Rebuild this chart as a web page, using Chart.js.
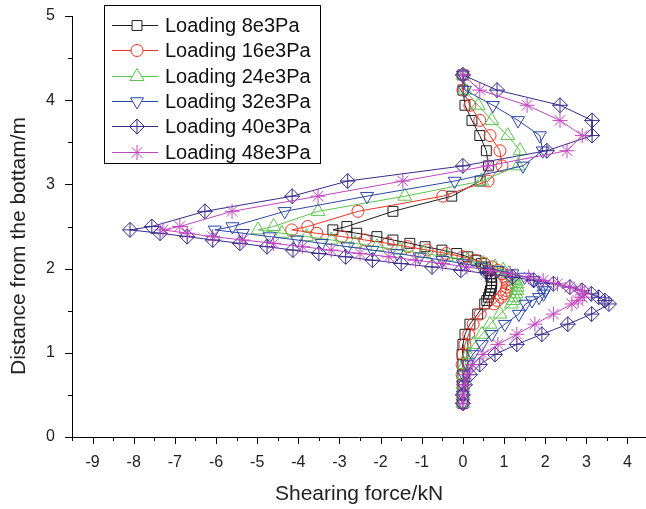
<!DOCTYPE html>
<html><head><meta charset="utf-8">
<script src="https://cdn.jsdelivr.net/npm/chart.js@4.4.1/dist/chart.umd.min.js"></script>
<style>html,body{margin:0;padding:0;background:#fff}#wrap{width:646px;height:509px;position:relative}</style>
</head><body><div id="wrap"><canvas id="c" width="646" height="509"></canvas></div>
<script>
const depth = [4.30, 4.12, 3.94, 3.76, 3.58, 3.40, 3.22, 3.04, 2.86, 2.68, 2.50,
  2.46, 2.42, 2.38, 2.34, 2.30, 2.26, 2.22, 2.18, 2.14, 2.10, 2.06, 2.02, 1.98, 1.94, 1.90, 1.86, 1.82, 1.78, 1.74, 1.70, 1.66, 1.62, 1.58,
  1.46, 1.34, 1.22, 1.10, 0.98, 0.86, 0.74, 0.62, 0.50, 0.40];
const load8 = [0.00, 0.00, 0.05, 0.22, 0.41, 0.57, 0.62, 0.42, -0.27, -1.70, -2.82,
  -3.16, -2.58, -2.09, -1.70, -1.29, -0.92, -0.51, -0.15, 0.12, 0.32, 0.45, 0.55, 0.62, 0.66, 0.68, 0.70, 0.70, 0.69, 0.67, 0.65, 0.62, 0.58, 0.53,
  0.36, 0.17, 0.05, 0.00, -0.02, 0.00, 0.00, 0.00, 0.00, 0.00];
const load16 = [0.00, 0.00, 0.17, 0.41, 0.66, 0.90, 0.95, 0.61, -0.49, -2.55, -3.77,
  -4.16, -3.55, -2.94, -2.38, -1.82, -1.34, -0.87, -0.40, 0.00, 0.30, 0.52, 0.70, 0.84, 0.95, 1.02, 1.06, 1.08, 1.07, 1.05, 1.00, 0.93, 0.84, 0.75,
  0.42, 0.25, 0.14, 0.05, 0.00, -0.02, -0.02, 0.00, 0.00, 0.00];
const load24 = [0.00, 0.05, 0.37, 0.70, 1.09, 1.39, 1.34, 0.46, -1.41, -3.52, -4.60,
  -4.98, -4.40, -3.80, -3.20, -2.62, -2.09, -1.53, -0.95, -0.40, 0.12, 0.50, 0.78, 0.98, 1.12, 1.22, 1.28, 1.31, 1.32, 1.31, 1.29, 1.26, 1.22, 1.18,
  0.90, 0.66, 0.46, 0.25, 0.12, 0.05, 0.01, 0.00, 0.00, 0.00];
const load32 = [0.00, 0.05, 0.73, 1.34, 1.87, 1.94, 1.46, -0.20, -2.33, -4.33, -5.60,
  -6.03, -5.35, -4.70, -4.03, -3.43, -2.80, -2.20, -1.60, -1.05, -0.50, 0.00, 0.45, 0.85, 1.20, 1.50, 1.72, 1.87, 1.96, 2.00, 1.96, 1.85, 1.68, 1.52,
  1.36, 1.02, 0.70, 0.46, 0.24, 0.10, 0.02, 0.00, 0.00, 0.00];
const load40 = [0.00, 0.83, 2.36, 3.14, 3.14, 2.04, 0.00, -2.80, -4.15, -6.27, -7.56,
  -8.09, -7.36, -6.70, -6.08, -5.42, -4.76, -4.13, -3.50, -2.85, -2.20, -1.50, -0.75, -0.05, 0.60, 1.20, 1.72, 2.20, 2.60, 2.90, 3.12, 3.30, 3.45, 3.55,
  3.13, 2.55, 1.92, 1.31, 0.78, 0.41, 0.17, 0.05, 0.00, 0.00];
const load48 = [0.00, 0.41, 1.56, 2.36, 2.90, 2.53, 0.61, -1.46, -3.52, -5.61, -6.88,
  -7.29, -6.70, -6.08, -5.35, -4.60, -3.90, -3.20, -2.50, -1.80, -1.15, -0.50, 0.10, 0.65, 1.15, 1.60, 1.95, 2.30, 2.60, 2.85, 2.95, 2.90, 2.80, 2.65,
  2.20, 1.75, 1.31, 0.85, 0.49, 0.24, 0.10, 0.03, 0.00, 0.00];
const seriesNames = ['Loading 8e3Pa', 'Loading 16e3Pa', 'Loading 24e3Pa', 'Loading 32e3Pa', 'Loading 40e3Pa', 'Loading 48e3Pa'];
const seriesValues = [load8, load16, load24, load32, load40, load48];
const xTickLabels = [-9, -8, -7, -6, -5, -4, -3, -2, -1, 0, 1, 2, 3, 4];
const yTickLabels = [0, 1, 2, 3, 4, 5];

const styles = [
  {color: '#1e1e1e', point: 'rect', r: 7, rot: 0},
  {color: '#ec3323', point: 'circle', r: 6, rot: 0},
  {color: '#5cc44f', point: 'triangle', r: 8, rot: 0},
  {color: '#2b46a8', point: 'triangle', r: 7.5, rot: 180},
  {color: '#382c8c', point: 'rectRot', r: 7.5, rot: 0, extra: 'cross'},
  {color: '#c244c0', point: 'star', r: 7.5, rot: 0}
];
const FONT = '"Liberation Sans", Arial, sans-serif';

const datasets = [];
seriesValues.forEach((vals, i) => {
  const s = styles[i];
  const pts = depth.map((d, k) => ({x: vals[k], y: d}));
  datasets.push({
    label: seriesNames[i], data: pts, showLine: true,
    borderColor: s.color, borderWidth: 1, backgroundColor: 'rgba(0,0,0,0)',
    pointStyle: s.point, pointRotation: s.rot, pointRadius: s.r,
    pointBorderColor: s.color, pointBackgroundColor: 'rgba(0,0,0,0)', pointBorderWidth: 1,
    tension: 0, order: 20 - 2 * i
  });
  if (s.extra) {
    datasets.push({
      label: '_' + seriesNames[i], data: pts, showLine: false,
      pointStyle: s.extra, pointRadius: s.r, pointBorderColor: s.color,
      pointBackgroundColor: 'rgba(0,0,0,0)', pointBorderWidth: 1, order: 19 - 2 * i
    });
  }
});

const decor = {
  id: 'decor',
  afterDraw(chart) {
    const {ctx, scales: {x, y}} = chart;
    ctx.save();
    ctx.strokeStyle = '#000'; ctx.lineWidth = 1;
    for (let k = Math.ceil(x.min * 2); k <= Math.floor(x.max * 2); k++) {
      const px = Math.round(x.getPixelForValue(k / 2)) + 0.5;
      const len = (k % 2 === 0) ? 7 : 4;
      ctx.beginPath(); ctx.moveTo(px, x.top); ctx.lineTo(px, x.top + len); ctx.stroke();
    }
    for (let k = Math.ceil(y.min * 2); k <= Math.floor(y.max * 2); k++) {
      const py = Math.round(y.getPixelForValue(k / 2)) + 0.5;
      const len = (k % 2 === 0) ? 7 : 4;
      ctx.beginPath(); ctx.moveTo(y.right, py); ctx.lineTo(y.right - len, py); ctx.stroke();
    }
    ctx.fillStyle = '#222';
    ctx.font = '21px ' + FONT;
    ctx.textAlign = 'center'; ctx.textBaseline = 'middle';
    ctx.fillText('Shearing force/kN', (x.left + x.right) / 2, 494);
    ctx.save();
    ctx.translate(19, 246); ctx.rotate(-Math.PI / 2);
    ctx.fillText('Distance from the bottam/m', 0, 0);
    ctx.restore();
    const bx = 104.5, by = 5.5, bw = 216, bh = 158;
    ctx.fillStyle = '#fff'; ctx.fillRect(bx, by, bw, bh);
    ctx.strokeStyle = '#000'; ctx.lineWidth = 1; ctx.strokeRect(bx, by, bw, bh);
    ctx.font = '20px ' + FONT; ctx.textAlign = 'left'; ctx.textBaseline = 'middle';
    seriesNames.forEach((name, i) => {
      const s = styles[i];
      const ry = Math.round(25 + i * 25.3) + 0.5;
      ctx.strokeStyle = s.color; ctx.lineWidth = 1.2;
      ctx.beginPath(); ctx.moveTo(112, ry); ctx.lineTo(158, ry); ctx.stroke();
      ctx.fillStyle = '#fff'; ctx.strokeStyle = s.color; ctx.lineWidth = 1;
      Chart.helpers.drawPoint(ctx, {pointStyle: s.point, rotation: s.rot, radius: s.r, borderWidth: 1}, 137, ry);
      if (s.extra) Chart.helpers.drawPoint(ctx, {pointStyle: s.extra, rotation: 0, radius: s.r, borderWidth: 1}, 137, ry);
      ctx.fillStyle = '#111';
      ctx.fillText(name, 165, ry + 1);
    });
    ctx.restore();
  }
};

new Chart(document.getElementById('c'), {
  type: 'scatter',
  data: {datasets},
  options: {
    responsive: false, animation: false, devicePixelRatio: 1,
    layout: {autoPadding: false, padding: {top: 16, right: 0, left: 0, bottom: 0}},
    plugins: {legend: {display: false}, tooltip: {enabled: false}},
    scales: {
      x: {
        type: 'linear', min: -9.5, max: 4.45,
        afterFit: (s) => { s.height = 72; s.paddingLeft = 0; s.paddingRight = 0; },
        grid: {display: true, drawOnChartArea: false, drawTicks: false},
        border: {display: true, color: '#000', width: 1},
        ticks: {
          stepSize: 1, includeBounds: false, padding: 16, color: '#222',
          font: {size: 16, family: FONT},
          callback: (v) => xTickLabels.includes(v) ? String(v) : ''
        }
      },
      y: {
        type: 'linear', min: 0, max: 5,
        afterFit: (s) => { s.width = 72; s.paddingTop = 0; s.paddingBottom = 0; },
        grid: {display: true, drawOnChartArea: false, drawTicks: false},
        border: {display: true, color: '#000', width: 1},
        ticks: {
          stepSize: 1, includeBounds: false, padding: 17, color: '#222',
          font: {size: 16, family: FONT},
          callback: (v) => yTickLabels.includes(v) ? String(v) : ''
        }
      }
    }
  },
  plugins: [decor]
});
</script></body></html>
